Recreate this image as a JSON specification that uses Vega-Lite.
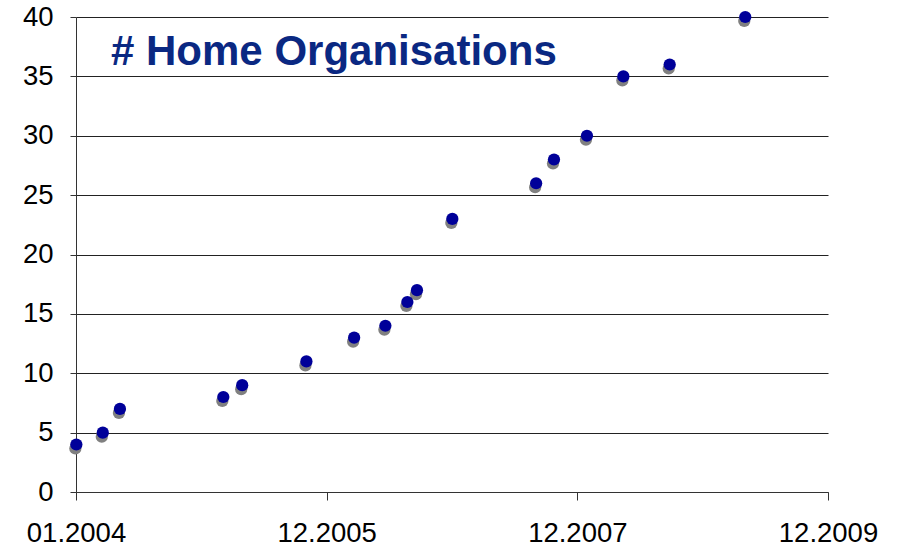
{
  "$schema": "https://vega.github.io/schema/vega-lite/v6.json",
  "width": 752,
  "height": 475,
  "autosize": "none",
  "padding": {"left": 76, "top": 17, "right": 69, "bottom": 55},
  "background": "white",
  "title": {
    "text": "# Home Organisations",
    "anchor": "start",
    "frame": "group",
    "orient": "top",
    "font": "Liberation Sans",
    "fontSize": 42,
    "fontWeight": "bold",
    "color": "#0A2882",
    "baseline": "alphabetic",
    "offset": -104,
    "dx": 35
  },
  "config": {
    "view": {"stroke": null},
    "axis": {
      "labelFont": "Liberation Sans",
      "labelFontSize": 27.5,
      "labelColor": "#000000",
      "domainColor": "#333333",
      "tickColor": "#333333",
      "domainWidth": 1,
      "tickWidth": 1,
      "title": null
    }
  },
  "data": {
    "values": [
      {"date": "2004-01-02", "count": 4},
      {"date": "2004-03-19", "count": 5},
      {"date": "2004-05-08", "count": 7},
      {"date": "2005-03-05", "count": 8},
      {"date": "2005-04-29", "count": 9},
      {"date": "2005-11-02", "count": 11},
      {"date": "2006-03-21", "count": 13},
      {"date": "2006-06-20", "count": 14},
      {"date": "2006-08-23", "count": 16},
      {"date": "2006-09-20", "count": 17},
      {"date": "2007-01-01", "count": 23},
      {"date": "2007-09-02", "count": 26},
      {"date": "2007-10-24", "count": 28},
      {"date": "2008-01-28", "count": 30},
      {"date": "2008-05-13", "count": 35},
      {"date": "2008-09-25", "count": 36},
      {"date": "2009-05-03", "count": 40}
    ]
  },
  "encoding": {
    "x": {
      "field": "date",
      "type": "temporal",
      "scale": {
        "type": "utc",
        "nice": false,
        "domain": [
          {"year": 2004, "month": 1, "date": 1, "utc": true},
          {"year": 2009, "month": 12, "date": 30, "utc": true}
        ]
      },
      "axis": {
        "values": [
          {"year": 2004, "month": 1, "date": 1, "utc": true},
          {"year": 2005, "month": 12, "date": 31, "utc": true},
          {"year": 2007, "month": 12, "date": 31, "utc": true},
          {"year": 2009, "month": 12, "date": 30, "utc": true}
        ],
        "format": "%m.%Y",
        "grid": false,
        "tickSize": 8,
        "labelPadding": 19,
        "labelFlush": false,
        "labelOverlap": false
      }
    },
    "y": {
      "field": "count",
      "type": "quantitative",
      "scale": {"domain": [0, 40], "nice": false},
      "axis": {
        "values": [0, 5, 10, 15, 20, 25, 30, 35, 40],
        "grid": true,
        "gridColor": "#222222",
        "gridWidth": 1,
        "tickSize": 6,
        "labelPadding": 17,
        "labelFlush": false,
        "labelOverlap": false
      }
    }
  },
  "layer": [
    {
      "mark": {"type": "point", "filled": true, "shape": "circle", "size": 150, "color": "#808080", "opacity": 1, "xOffset": -1, "yOffset": 4}
    },
    {
      "mark": {"type": "point", "filled": true, "shape": "circle", "size": 150, "color": "#000099", "opacity": 1}
    }
  ]
}
